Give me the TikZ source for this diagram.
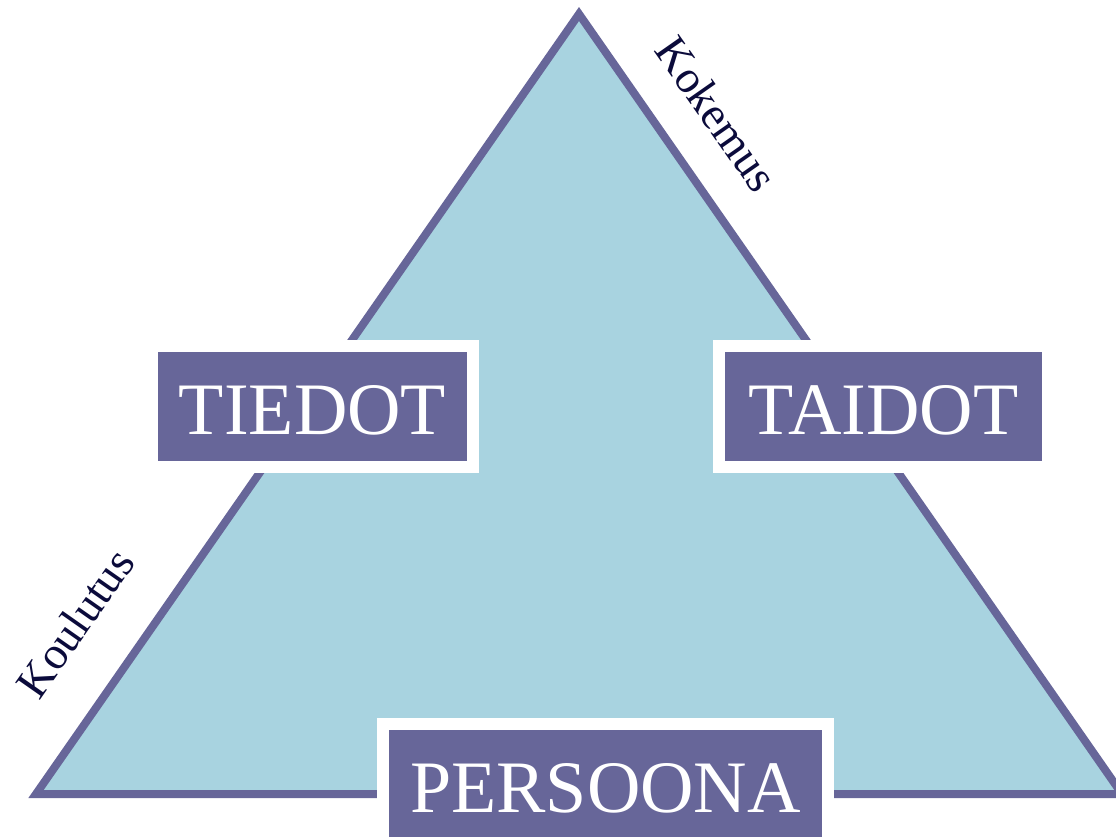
\documentclass[tikz,border=0pt]{standalone}
\usepackage{fontspec}
\setmainfont{Liberation Serif}
\usepackage{tikz}
\usetikzlibrary{positioning}
\definecolor{edgepurple}{HTML}{676699}
\definecolor{fillblue}{HTML}{A8D3E0}
\definecolor{labelnavy}{HTML}{0B0B3B}

\begin{document}
\begin{tikzpicture}[x=1pt,y=-1pt,
box/.style={draw=white,line width=12pt,fill=edgepurple,text=white,inner sep=0pt,
    minimum height=121pt,text height=55pt,text depth=0pt,font=\fontsize{74}{80}\selectfont},
side/.style={text=labelnavy,inner sep=0pt,font=\fontsize{46}{50}\selectfont}]
\useasboundingbox (0,0) rectangle (1116,836);
\clip (0,0) rectangle (1116,836);
\coordinate (top) at (579,14);
\coordinate (left) at (36,794);
\coordinate (right) at (1122,794);
\draw[edgepurple,fill=fillblue,line width=8pt,line join=miter] (left) -- (top) -- (right) -- cycle;
\node (tiedot) [box,minimum width=321pt] at (312.5,406.5) {TIEDOT};
\node (taidot) [box,minimum width=329pt] at (883.5,406.5) {TAIDOT};
\node (persoona) [box,minimum width=445pt] at (605.5,784.5) {PERSOONA};
\node (koulutus) [side,rotate=55] at (75,623) {Koulutus};
\node (kokemus) [side,rotate=-55] at (717,114) {Kokemus};
\end{tikzpicture}
\end{document}
